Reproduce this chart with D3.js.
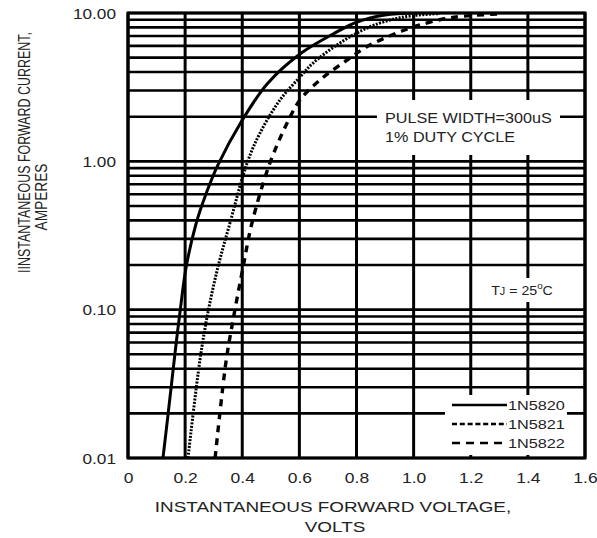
<!DOCTYPE html>
<html>
<head>
<meta charset="utf-8">
<script src="https://cdn.jsdelivr.net/npm/d3@7"></script>
<style>
  html, body { margin: 0; padding: 0; background: #fff; }
  svg { display: block; }
  text { font-family: "Liberation Sans", Arial, sans-serif; fill: #222; }
</style>
</head>
<body>
<svg id="chart" width="597" height="538"></svg>
<script>
// Forward voltage (V) vs. instantaneous forward current (A), Tj = 25°C
const seriesNames = ["1N5820", "1N5821", "1N5822"];

const v5820 = [0.1225, 0.14, 0.154, 0.168, 0.182, 0.203, 0.238, 0.273, 0.315, 0.396, 0.487, 0.602, 0.718, 0.802, 0.90, 1.005];
const i5820 = [0.01, 0.0195, 0.0336, 0.058, 0.096, 0.191, 0.378, 0.602, 0.945, 1.84, 3.32, 5.29, 7.22, 8.7, 9.7, 10.0];

const v5821 = [0.21, 0.252, 0.28, 0.315, 0.357, 0.417, 0.462, 0.532, 0.602, 0.648, 0.742, 0.837, 0.917, 0.987, 1.092];
const i5821 = [0.01, 0.046, 0.096, 0.194, 0.384, 0.975, 1.55, 2.59, 3.7, 4.6, 6.28, 7.92, 8.97, 9.55, 9.92];

const v5822 = [0.305, 0.343, 0.371, 0.403, 0.434, 0.497, 0.557, 0.602, 0.672, 0.767, 0.84, 0.9, 0.959, 1.022, 1.103, 1.162, 1.292];
const i5822 = [0.01, 0.0444, 0.092, 0.194, 0.384, 0.975, 1.81, 2.59, 3.53, 4.82, 5.99, 6.79, 7.56, 8.3, 9.11, 9.47, 9.85];

const xTickValues = [0, 0.2, 0.4, 0.6, 0.8, 1.0, 1.2, 1.4, 1.6];
const xTickLabels = ["0", "0.2", "0.4", "0.6", "0.8", "1.0", "1.2", "1.4", "1.6"];
const yTickValues = [0.01, 0.1, 1, 10];
const yTickLabels = ["0.01", "0.10", "1.00", "10.00"];

const yTitleLines = ["IINSTANTANEOUS FORWARD CURRENT,", "AMPERES"];
const xTitleLines = ["INSTANTANEOUS FORWARD VOLTAGE,", "VOLTS"];
const noteLines = ["PULSE WIDTH=300uS", "1% DUTY CYCLE"];

const svg = d3.select("#chart");
const L = 128, R = 585, T = 13, B = 458;

const x = d3.scaleLinear().domain([0, 1.6]).range([L, R]);
const y = d3.scaleLog().domain([0.01, 10]).range([B, T]);

svg.append("defs").append("clipPath").attr("id", "plot-clip")
  .append("rect").attr("x", L).attr("y", T).attr("width", R - L).attr("height", B - T);

// grid: minor decades horizontally, 0.2 V steps vertically
const grid = svg.append("g");
grid.selectAll("line.h").data(y.ticks()).join("line")
  .attr("x1", L).attr("x2", R)
  .attr("y1", d => y(d)).attr("y2", d => y(d))
  .attr("stroke", "#000").attr("stroke-width", 2.6);
grid.selectAll("line.v").data(xTickValues).join("line")
  .attr("x1", d => x(d)).attr("x2", d => x(d))
  .attr("y1", T).attr("y2", B)
  .attr("stroke", "#000").attr("stroke-width", 3);

// white panels behind the notes and legend
const panels = [
  [377, 100, 183, 55],
  [500, 278, 50, 24],
  [445, 395, 122, 60]
];
svg.append("g").selectAll("rect").data(panels).join("rect")
  .attr("x", d => d[0]).attr("y", d => d[1])
  .attr("width", d => d[2]).attr("height", d => d[3])
  .attr("fill", "#fff");

// curves
const styles = [
  { dash: null, w: 3 },
  { dash: "2,1.4", w: 3 },
  { dash: "7,6", w: 3.4 }
];
const data = [
  v5820.map((v, k) => [v, i5820[k]]),
  v5821.map((v, k) => [v, i5821[k]]),
  v5822.map((v, k) => [v, i5822[k]])
];
const line = d3.line().x(d => x(d[0])).y(d => y(d[1])).curve(d3.curveCatmullRom.alpha(0.5));
svg.append("g").attr("clip-path", "url(#plot-clip)")
  .selectAll("path").data(data).join("path")
  .attr("d", line)
  .attr("fill", "none")
  .attr("stroke", "#000")
  .attr("stroke-width", (d, k) => styles[k].w)
  .attr("stroke-dasharray", (d, k) => styles[k].dash);

// frame
svg.append("rect").attr("x", L).attr("y", T).attr("width", R - L).attr("height", B - T)
  .attr("fill", "none").attr("stroke", "#000").attr("stroke-width", 3);

// axes
const xAxis = svg.append("g").attr("transform", `translate(0,${B})`)
  .call(d3.axisBottom(x).tickValues(xTickValues).tickSize(0)
    .tickFormat((d, k) => xTickLabels[k]));
xAxis.select(".domain").remove();
xAxis.selectAll("text")
  .attr("y", 25).attr("dy", 0)
  .attr("font-size", 14).attr("fill", "#222")
  .attr("transform", "scale(1.25,1)");

const yAxis = svg.append("g").attr("transform", `translate(${L},0)`)
  .call(d3.axisLeft(y).tickValues(yTickValues).tickSize(0)
    .tickFormat((d, k) => yTickLabels[k]));
yAxis.select(".domain").remove();
yAxis.selectAll("text")
  .attr("x", -12 / 1.23).attr("dy", "0.36em")
  .attr("font-size", 14).attr("fill", "#222")
  .attr("transform", "scale(1.23,1)");

// axis titles
const yTitlePos = [[24, 152.5, 241], [41, 197, 67]];
yTitleLines.forEach((s, k) => {
  svg.append("text")
    .attr("transform", `translate(${yTitlePos[k][0]},${yTitlePos[k][1]}) scale(1.28,1) rotate(-90)`)
    .attr("text-anchor", "middle").attr("dy", "0.36em")
    .attr("font-size", 13.5)
    .attr("textLength", yTitlePos[k][2]).attr("lengthAdjust", "spacingAndGlyphs")
    .text(s);
});
const xTitlePos = [[333, 507], [335, 527]];
xTitleLines.forEach((s, k) => {
  svg.append("text")
    .attr("transform", `translate(${xTitlePos[k][0]},${xTitlePos[k][1]}) scale(1.26,1)`)
    .attr("text-anchor", "middle").attr("dy", "0.36em")
    .attr("font-size", 15)
    .text(s);
});

// test-condition notes
noteLines.forEach((s, k) => {
  svg.append("text")
    .attr("transform", `translate(385,${118 + k * 19}) scale(1.157,1)`)
    .attr("dy", "0.36em").attr("font-size", 14)
    .text(s);
});
const tj = svg.append("text")
  .attr("transform", "translate(522,290) scale(1.09,1)")
  .attr("text-anchor", "middle").attr("dy", "0.36em").attr("font-size", 13);
tj.append("tspan").text("T");
tj.append("tspan").attr("font-size", 10).text("J");
tj.append("tspan").text(" = 25");
tj.append("tspan").attr("font-size", 9).attr("dy", "-0.6em").text("o");
tj.append("tspan").attr("dy", "0.42em").text("C");

// legend
const legendDash = [null, "5,2.8", "8,6"];
const lg = svg.append("g");
seriesNames.forEach((name, k) => {
  const yy = 405 + k * 19;
  lg.append("line")
    .attr("x1", 452).attr("x2", 507).attr("y1", yy).attr("y2", yy)
    .attr("stroke", "#000").attr("stroke-width", 2.6)
    .attr("stroke-dasharray", legendDash[k]);
  lg.append("text")
    .attr("transform", `translate(508,${yy}) scale(1.25,1)`)
    .attr("dy", "0.36em").attr("font-size", 13)
    .text(name);
});
</script>
</body>
</html>
